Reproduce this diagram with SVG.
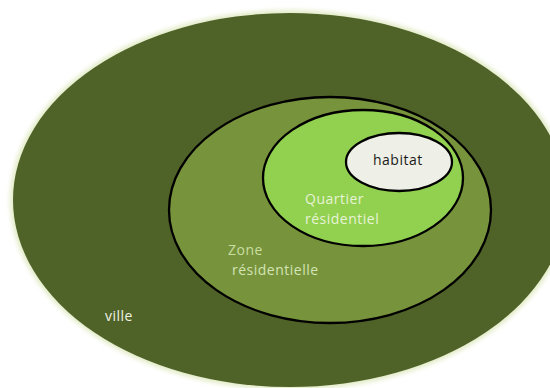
<svg xmlns="http://www.w3.org/2000/svg" width="550" height="388" viewBox="0 0 550 388">
  <defs>
    <filter id="glow" x="-10%" y="-10%" width="120%" height="120%">
      <feGaussianBlur stdDeviation="2"/>
    </filter>
    <style>
      .ring { stroke: #000; stroke-width: 2.3; }
      .lbl { font-family: "Open Sans", "DejaVu Sans", sans-serif; font-size: 14px; letter-spacing: 0.5px; }
    </style>
  </defs>
  <rect width="550" height="388" fill="#ffffff"/>
  <g id="ville">
    <ellipse cx="290" cy="200" rx="280" ry="190" fill="#e3ecc8" filter="url(#glow)"/>
    <ellipse cx="290" cy="200" rx="277" ry="187" fill="#4f6228"/>
    <text class="lbl" x="105" y="321" fill="#eef2e4">ville</text>
  </g>
  <g id="zone">
    <ellipse class="ring" cx="330" cy="210" rx="161" ry="113" fill="#77933c"/>
    <text class="lbl" x="228" y="255" fill="#c9dea0">Zone</text>
    <text class="lbl" x="232" y="275" fill="#d3e4b4">résidentielle</text>
  </g>
  <g id="quartier">
    <ellipse class="ring" cx="363" cy="178" rx="100" ry="68" fill="#92d050"/>
    <text class="lbl" x="305" y="204" fill="#e6f3d6">Quartier</text>
    <text class="lbl" x="305" y="224" fill="#e6f3d6">résidentiel</text>
  </g>
  <g id="habitat">
    <ellipse class="ring" cx="399" cy="162" rx="53" ry="29" fill="#eeefe6"/>
    <text class="lbl" x="373" y="165" fill="#1a1a1a">habitat</text>
  </g>
  <g id="connectors"/>
</svg>
